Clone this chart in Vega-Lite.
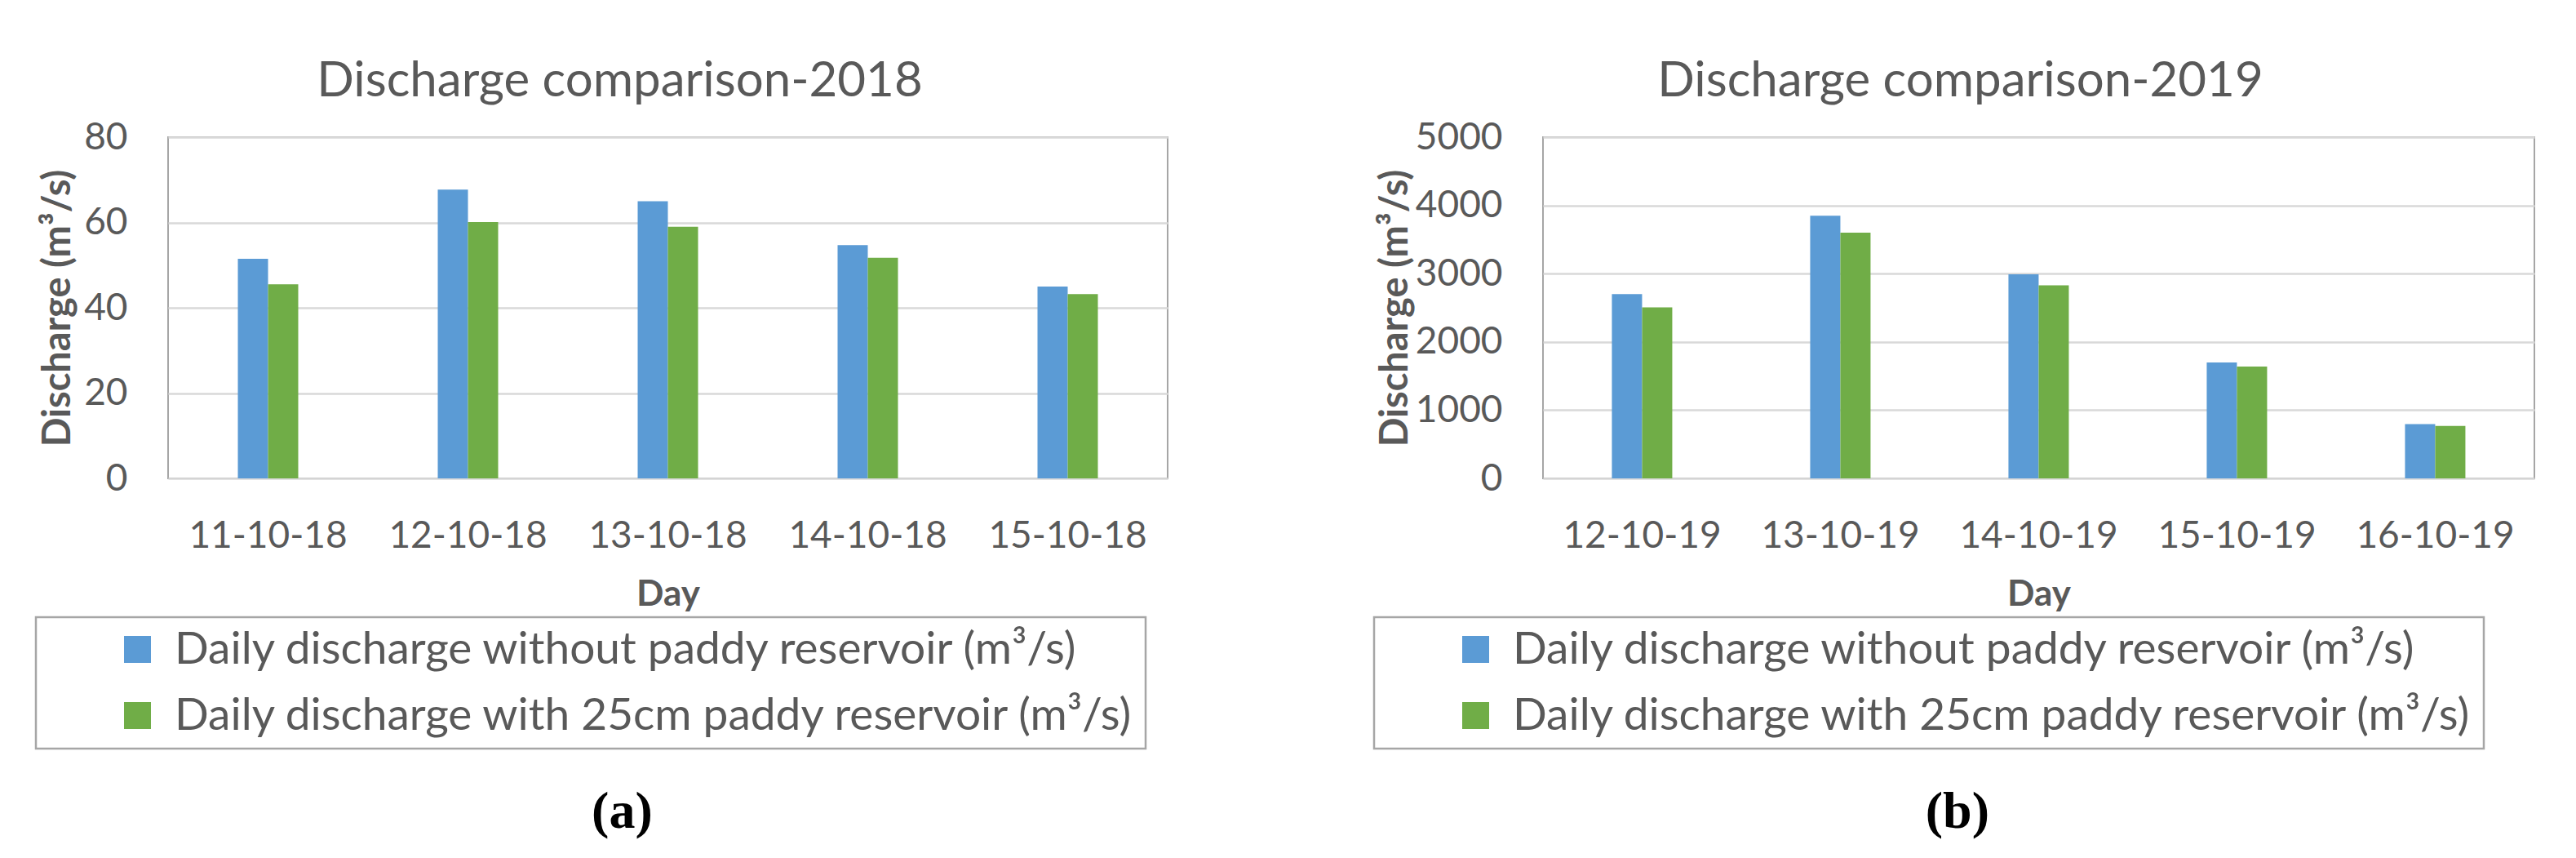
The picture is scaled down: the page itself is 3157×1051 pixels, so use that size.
{
  "$schema": "https://vega.github.io/schema/vega-lite/v6.json",
  "background": "white",
  "padding": {"left": 42, "top": 69, "right": 10, "bottom": 10},
  "spacing": 250,
  "resolve": {"scale": {"color": "independent"}, "legend": {"color": "independent"}},
  "config": {
    "font": "Lato",
    "view": {"stroke": "#a6a6a6", "strokeWidth": 2},
    "axis": {
      "labelFont": "Lato", "labelColor": "#595959", "labelFontSize": 46, "labelLimit": 500,
      "titleFont": "Lato", "titleColor": "#595959", "titleFontSize": 44, "titleFontWeight": "bold",
      "grid": false, "ticks": false, "domain": false
    },
    "axisY": {"grid": true, "gridColor": "#d9d9d9", "gridWidth": 2.5, "labelPadding": 50, "titleFontSize": 47},
    "axisX": {"labelAngle": 0, "labelPadding": 48, "titlePadding": 27},
    "legend": {
      "labelFont": "Lato", "labelFontSize": 55, "labelColor": "#595959", "labelLimit": 3000,
      "symbolType": "square", "symbolSize": 1089, "symbolStrokeWidth": 0,
      "labelOffset": 18, "rowPadding": 25, "padding": 12, "symbolOffset": 85,
      "strokeColor": "#a6a6a6", "strokeWidth": 2.5, "fillColor": "white"
    },
    "title": {"font": "Lato", "fontSize": 60, "fontWeight": "normal", "color": "#595959", "offset": 14}
  },
  "datasets": {
    "d2018": [
      {"day": "11-10-18", "series": "Daily discharge without paddy reservoir (m³/s)", "value": 51.5},
      {"day": "11-10-18", "series": "Daily discharge with 25cm paddy reservoir (m³/s)", "value": 45.5},
      {"day": "12-10-18", "series": "Daily discharge without paddy reservoir (m³/s)", "value": 67.7},
      {"day": "12-10-18", "series": "Daily discharge with 25cm paddy reservoir (m³/s)", "value": 60.1},
      {"day": "13-10-18", "series": "Daily discharge without paddy reservoir (m³/s)", "value": 65.0},
      {"day": "13-10-18", "series": "Daily discharge with 25cm paddy reservoir (m³/s)", "value": 59.0},
      {"day": "14-10-18", "series": "Daily discharge without paddy reservoir (m³/s)", "value": 54.7},
      {"day": "14-10-18", "series": "Daily discharge with 25cm paddy reservoir (m³/s)", "value": 51.7},
      {"day": "15-10-18", "series": "Daily discharge without paddy reservoir (m³/s)", "value": 45.0},
      {"day": "15-10-18", "series": "Daily discharge with 25cm paddy reservoir (m³/s)", "value": 43.2}
    ],
    "d2019": [
      {"day": "12-10-19", "series": "Daily discharge without paddy reservoir (m³/s)", "value": 2700},
      {"day": "12-10-19", "series": "Daily discharge with 25cm paddy reservoir (m³/s)", "value": 2505},
      {"day": "13-10-19", "series": "Daily discharge without paddy reservoir (m³/s)", "value": 3850},
      {"day": "13-10-19", "series": "Daily discharge with 25cm paddy reservoir (m³/s)", "value": 3600},
      {"day": "14-10-19", "series": "Daily discharge without paddy reservoir (m³/s)", "value": 2990},
      {"day": "14-10-19", "series": "Daily discharge with 25cm paddy reservoir (m³/s)", "value": 2830},
      {"day": "15-10-19", "series": "Daily discharge without paddy reservoir (m³/s)", "value": 1700},
      {"day": "15-10-19", "series": "Daily discharge with 25cm paddy reservoir (m³/s)", "value": 1640},
      {"day": "16-10-19", "series": "Daily discharge without paddy reservoir (m³/s)", "value": 795},
      {"day": "16-10-19", "series": "Daily discharge with 25cm paddy reservoir (m³/s)", "value": 770}
    ]
  },
  "hconcat": [
    {
      "title": {"text": "(a)", "orient": "bottom", "anchor": "middle", "dx": 25, "font": "Liberation Serif", "fontSize": 64, "fontWeight": "bold", "color": "#000000", "offset": 45},
      "vconcat": [
        {
          "width": 1225, "height": 418,
          "title": {"text": "Discharge comparison-2018", "dx": -59},
          "data": {"name": "d2018"},
          "mark": {"type": "bar"},
          "encoding": {
            "x": {"field": "day", "type": "nominal", "sort": null, "title": "Day",
                  "scale": {"paddingInner": 0.698, "paddingOuter": 0.349}},
            "xOffset": {"field": "series", "type": "nominal",
                        "sort": ["Daily discharge without paddy reservoir (m³/s)", "Daily discharge with 25cm paddy reservoir (m³/s)"]},
            "y": {"field": "value", "type": "quantitative", "title": "Discharge (m³/s)",
                  "scale": {"domain": [0, 80], "nice": false},
                  "axis": {"values": [0, 20, 40, 60, 80], "titlePadding": 7}},
            "color": {"field": "series", "type": "nominal",
                      "scale": {"domain": ["Daily discharge without paddy reservoir (m³/s)", "Daily discharge with 25cm paddy reservoir (m³/s)"],
                                "range": ["#5b9bd5", "#70ad47"]},
                      "legend": {"orient": "none", "legendX": -162, "legendY": 588, "title": null, "direction": "vertical"}}
          }
        }
      ]
    },
    {
      "title": {"text": "(b)", "orient": "bottom", "anchor": "middle", "dx": 4, "font": "Liberation Serif", "fontSize": 64, "fontWeight": "bold", "color": "#000000", "offset": 45},
      "vconcat": [
        {
          "width": 1215, "height": 418,
          "title": {"text": "Discharge comparison-2019", "dx": -96},
          "data": {"name": "d2019"},
          "mark": {"type": "bar"},
          "encoding": {
            "x": {"field": "day", "type": "nominal", "sort": null, "title": "Day",
                  "scale": {"paddingInner": 0.695, "paddingOuter": 0.3475}},
            "xOffset": {"field": "series", "type": "nominal",
                        "sort": ["Daily discharge without paddy reservoir (m³/s)", "Daily discharge with 25cm paddy reservoir (m³/s)"]},
            "y": {"field": "value", "type": "quantitative", "title": "Discharge (m³/s)",
                  "scale": {"domain": [0, 5000], "nice": false},
                  "axis": {"values": [0, 1000, 2000, 3000, 4000, 5000], "format": "d", "titlePadding": 0}},
            "color": {"field": "series", "type": "nominal",
                      "scale": {"domain": ["Daily discharge without paddy reservoir (m³/s)", "Daily discharge with 25cm paddy reservoir (m³/s)"],
                                "range": ["#5b9bd5", "#70ad47"]},
                      "legend": {"orient": "none", "legendX": -207, "legendY": 588, "title": null, "direction": "vertical"}}
          }
        }
      ]
    }
  ]
}
